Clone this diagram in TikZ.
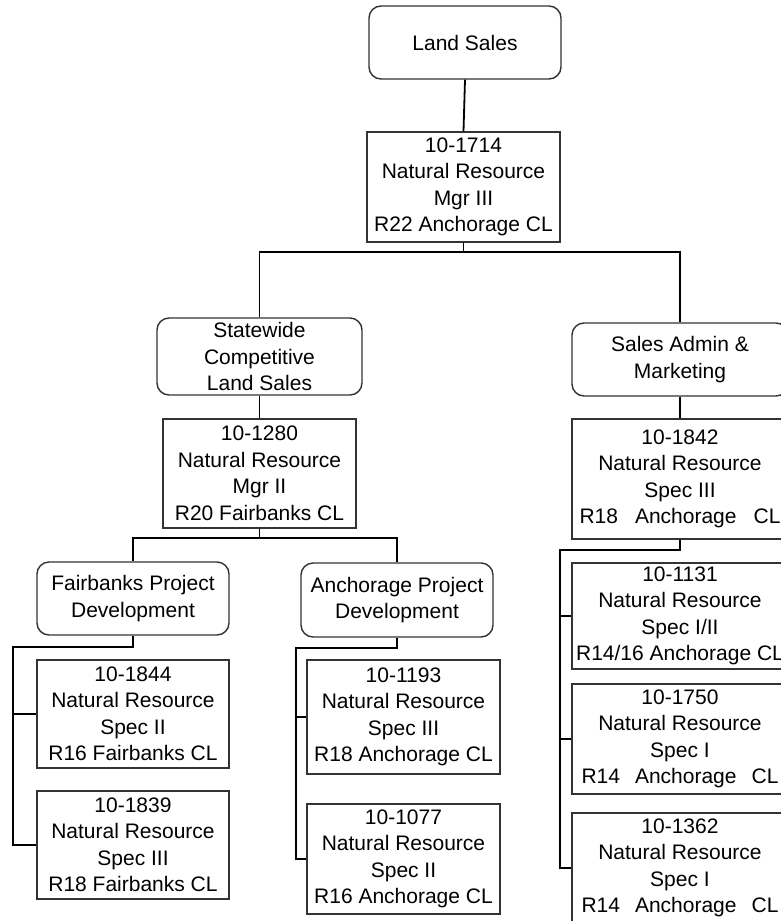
\documentclass[tikz,border=0pt]{standalone}
\usepackage{fontspec}
\setmainfont{Liberation Sans}
\begin{document}
\begin{tikzpicture}[x=1pt,y=-1pt,
  box/.style={draw=black!80,line width=1.4pt,fill=white,inner sep=0pt,align=center,
    font=\fontsize{21}{26.5}\selectfont},
  unitbox/.style={box,rounded corners=12pt},
  posbox/.style={box},
  link/.style={draw=black,line width=1.8pt}]
\useasboundingbox (0,0) rectangle (781,921);
\clip (0,0) rectangle (781,921);
\fill[white] (0,0) rectangle (781,921);
% nodes
\node[unitbox,minimum width=192pt,minimum height=73pt] (land) at (465,42.5) {Land Sales};
\node[posbox,minimum width=193pt,minimum height=110pt] (m1714) at (463.5,187) {10-1714\\Natural Resource\\Mgr III\\R22 Anchorage CL};
\node[unitbox,minimum width=205pt,minimum height=77pt] (state) at (259.5,356.5) {Statewide\\Competitive\\Land Sales};
\node[posbox,minimum width=193pt,minimum height=109pt] (m1280) at (259.5,473.5) {10-1280\\Natural Resource\\Mgr II\\R20 Fairbanks CL};
\node[unitbox,minimum width=216pt,minimum height=73pt] (sales) at (680,359.5) {Sales Admin \&\\Marketing};
\node[posbox,minimum width=216pt,minimum height=120pt] (m1842) at (680,479) {10-1842\\Natural Resource\\Spec III\\R18\hspace{17pt}Anchorage\hspace{17pt}CL};
\node[unitbox,minimum width=192pt,minimum height=73pt] (fpd) at (133,598.5) {Fairbanks Project\\Development};
\node[posbox,minimum width=192pt,minimum height=108pt] (m1844) at (133,714) {10-1844\\Natural Resource\\Spec II\\R16 Fairbanks CL};
\node[posbox,minimum width=192pt,minimum height=108pt] (m1839) at (133,845) {10-1839\\Natural Resource\\Spec III\\R18 Fairbanks CL};
\node[unitbox,minimum width=192pt,minimum height=74pt] (apd) at (397,600) {Anchorage Project\\Development};
\node[posbox,minimum width=193pt,minimum height=114pt] (m1193) at (403.5,717) {10-1193\\Natural Resource\\Spec III\\R18 Anchorage CL};
\node[posbox,minimum width=193pt,minimum height=110pt] (m1077) at (403.5,859) {10-1077\\Natural Resource\\Spec II\\R16 Anchorage CL};
\node[posbox,minimum width=216pt,minimum height=106pt] (m1131) at (680,616) {10-1131\\Natural Resource\\Spec I/II\\R14/16 Anchorage CL};
\node[posbox,minimum width=216pt,minimum height=110pt] (m1750) at (680,739) {10-1750\\Natural Resource\\Spec I\\R14\hspace{15pt}Anchorage\hspace{15pt}CL};
\node[posbox,minimum width=216pt,minimum height=110pt] (m1362) at (680,868) {10-1362\\Natural Resource\\Spec I\\R14\hspace{15pt}Anchorage\hspace{15pt}CL};
% junctions
\coordinate (j1) at (463.5,252);
\coordinate (j2) at (259.5,538);
\coordinate (fa) at (13,647);
\coordinate (aa) at (296,648);
\coordinate (sa) at (560,550);
% connectors
\draw[link] (land.south) -- (m1714.north);
\draw[link] (m1714.south) -- (j1);
\draw[link] (state.north) |- (j1) -| (sales.north);
\draw[link] (state.south) -- (m1280.north);
\draw[link] (sales.south) -- (m1842.north);
\draw[link] (m1280.south) -- (j2);
\draw[link] (fpd.north) |- (j2) -| (apd.north);
\draw[link] (fpd.south) |- (fa) |- (m1839.west);
\draw[link] (fa |- m1844.west) -- (m1844.west);
\draw[link] (apd.south) |- (aa) |- (m1077.west);
\draw[link] (aa |- m1193.west) -- (m1193.west);
\draw[link] (m1842.south) |- (sa) |- (m1362.west);
\draw[link] (sa |- m1131.west) -- (m1131.west);
\draw[link] (sa |- m1750.west) -- (m1750.west);
\end{tikzpicture}
\end{document}
